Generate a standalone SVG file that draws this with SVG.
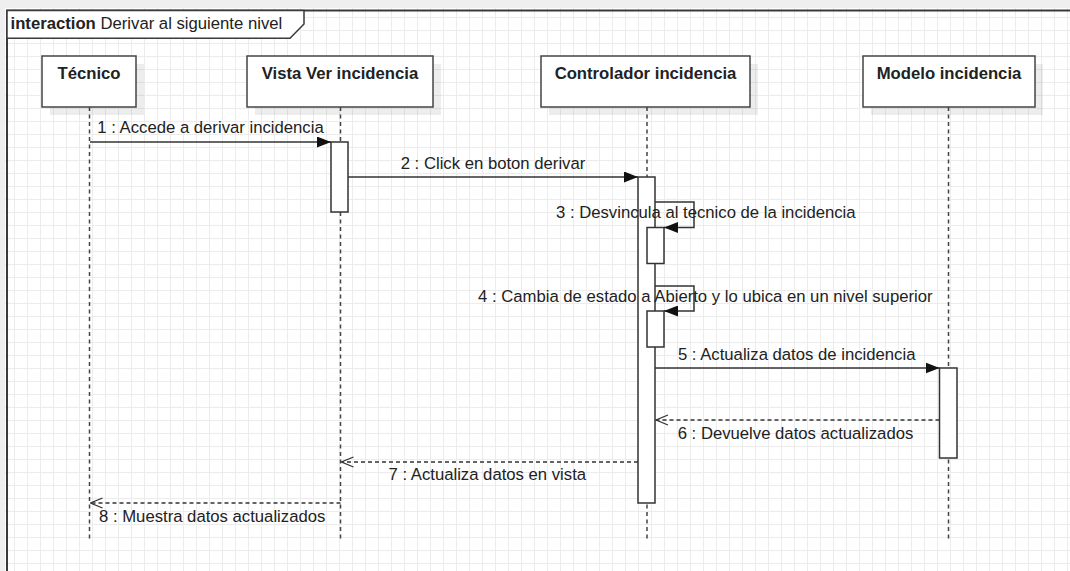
<svg xmlns="http://www.w3.org/2000/svg" width="1070" height="571" viewBox="0 0 1070 571">
  <style>
    text { font-family: "Liberation Sans", Arial, sans-serif; font-size: 16.7px; fill: #222; }
    .title { font-weight: bold; text-anchor: middle; }
    .lbl { text-anchor: middle; }
    .box { fill: #fff; stroke: #444; stroke-width: 1.5; }
    .shadow { fill: #000; fill-opacity: 0.07; }
    .life { stroke: #444; stroke-width: 1.5; stroke-dasharray: 4 3.5; fill: none; }
    .act { fill: #fff; stroke: #333; stroke-width: 1.5; }
    .msg { stroke: #333; stroke-width: 1.5; fill: none; marker-end: url(#filled); }
    .ret { stroke: #333; stroke-width: 1.3; stroke-dasharray: 4 3; fill: none; marker-end: url(#open); }
    .frame { stroke: #3a3a3a; stroke-width: 2; fill: none; }
  </style>
  <defs>
    <pattern id="grid" width="13" height="13" patternUnits="userSpaceOnUse" x="1" y="4">
      <path d="M0 0.5 H13 M0.5 0 V13" stroke="#ececec" stroke-width="1" fill="none"/>
    </pattern>
    <marker id="filled" viewBox="0 0 14 11" refX="14" refY="5.5" markerWidth="14" markerHeight="11" markerUnits="userSpaceOnUse" orient="auto">
      <path d="M0,0 L14,5.5 L0,11 z" fill="#111"/>
    </marker>
    <marker id="open" viewBox="-1 -1 14 12" refX="12" refY="5" markerWidth="14" markerHeight="12" markerUnits="userSpaceOnUse" orient="auto">
      <path d="M0,0 L12,5 L0,10" fill="none" stroke="#333" stroke-width="1.3"/>
    </marker>
  </defs>

  <rect x="0" y="0" width="1070" height="571" fill="#fff"/>
  <rect x="0" y="0" width="1070" height="571" fill="url(#grid)"/>
  <rect x="0" y="0" width="1070" height="8" fill="#efefef"/>
  <rect x="0" y="0" width="5" height="571" fill="#efefef"/>

  <g id="frame">
    <path class="frame" d="M7,571 V10.5 H1070"/>
    <path d="M7,10.5 H304 V24 L290,38.3 H7 Z" fill="#fff" stroke="#3a3a3a" stroke-width="1.5"/>
    <text x="10.5" y="28.5"><tspan font-weight="bold">interaction</tspan> Derivar al siguiente nivel</text>
  </g>

  <g id="lifelines">
    <line class="life" x1="89.5" y1="107" x2="89.5" y2="541"/>
    <line class="life" x1="340.5" y1="107" x2="340.5" y2="541"/>
    <line class="life" x1="647" y1="107" x2="647" y2="541"/>
    <line class="life" x1="948.5" y1="107" x2="948.5" y2="541"/>
  </g>

  <g id="tecnico">
    <rect class="shadow" x="50" y="64" width="94" height="51"/>
    <rect class="box" x="42" y="56" width="94" height="51"/>
    <text class="title" x="89" y="79">Técnico</text>
  </g>
  <g id="vista">
    <rect class="shadow" x="255" y="64" width="186" height="51"/>
    <rect class="box" x="247" y="56" width="186" height="51"/>
    <text class="title" x="340" y="79">Vista Ver incidencia</text>
  </g>
  <g id="controlador">
    <rect class="shadow" x="549" y="64" width="209" height="51"/>
    <rect class="box" x="541" y="56" width="209" height="51"/>
    <text class="title" x="645.5" y="79">Controlador incidencia</text>
  </g>
  <g id="modelo">
    <rect class="shadow" x="871" y="64" width="172" height="51"/>
    <rect class="box" x="863" y="56" width="172" height="51"/>
    <text class="title" x="949" y="79">Modelo incidencia</text>
  </g>

  <g id="activations">
    <rect class="act" x="331" y="142" width="17" height="70"/>
    <rect class="act" x="638" y="177" width="17" height="326"/>
    <rect class="act" x="647" y="227.5" width="17" height="36"/>
    <rect class="act" x="647" y="311" width="17" height="36"/>
    <rect class="act" x="939.5" y="368" width="17.5" height="90"/>
  </g>

  <g id="connectors">
    <line class="msg" x1="90" y1="142" x2="331" y2="142"/>
    <line class="msg" x1="348" y1="177" x2="638" y2="177"/>
    <path class="msg" d="M655,202 H694 V227.5 H664"/>
    <path class="msg" d="M655,286 H694 V311 H664"/>
    <line class="msg" x1="655" y1="368" x2="939.5" y2="368"/>
    <line class="ret" x1="939.5" y1="420" x2="656" y2="420"/>
    <line class="ret" x1="638" y1="462" x2="341.5" y2="462"/>
    <line class="ret" x1="340.5" y1="503" x2="90.5" y2="503"/>
  </g>

  <g id="labels">
    <text class="lbl" x="210.5" y="133">1 : Accede a derivar incidencia</text>
    <text class="lbl" x="493" y="168.5">2 : Click en boton derivar</text>
    <text class="lbl" x="705.8" y="217.5">3 : Desvincula al tecnico de la incidencia</text>
    <text class="lbl" x="705.3" y="301.5">4 : Cambia de estado a Abierto y lo ubica en un nivel superior</text>
    <text class="lbl" x="796.7" y="359.5">5 : Actualiza datos de incidencia</text>
    <text class="lbl" x="795.5" y="438.5">6 : Devuelve datos actualizados</text>
    <text class="lbl" x="487.3" y="480">7 : Actualiza datos en vista</text>
    <text class="lbl" x="212.2" y="522">8 : Muestra datos actualizados</text>
  </g>
</svg>
